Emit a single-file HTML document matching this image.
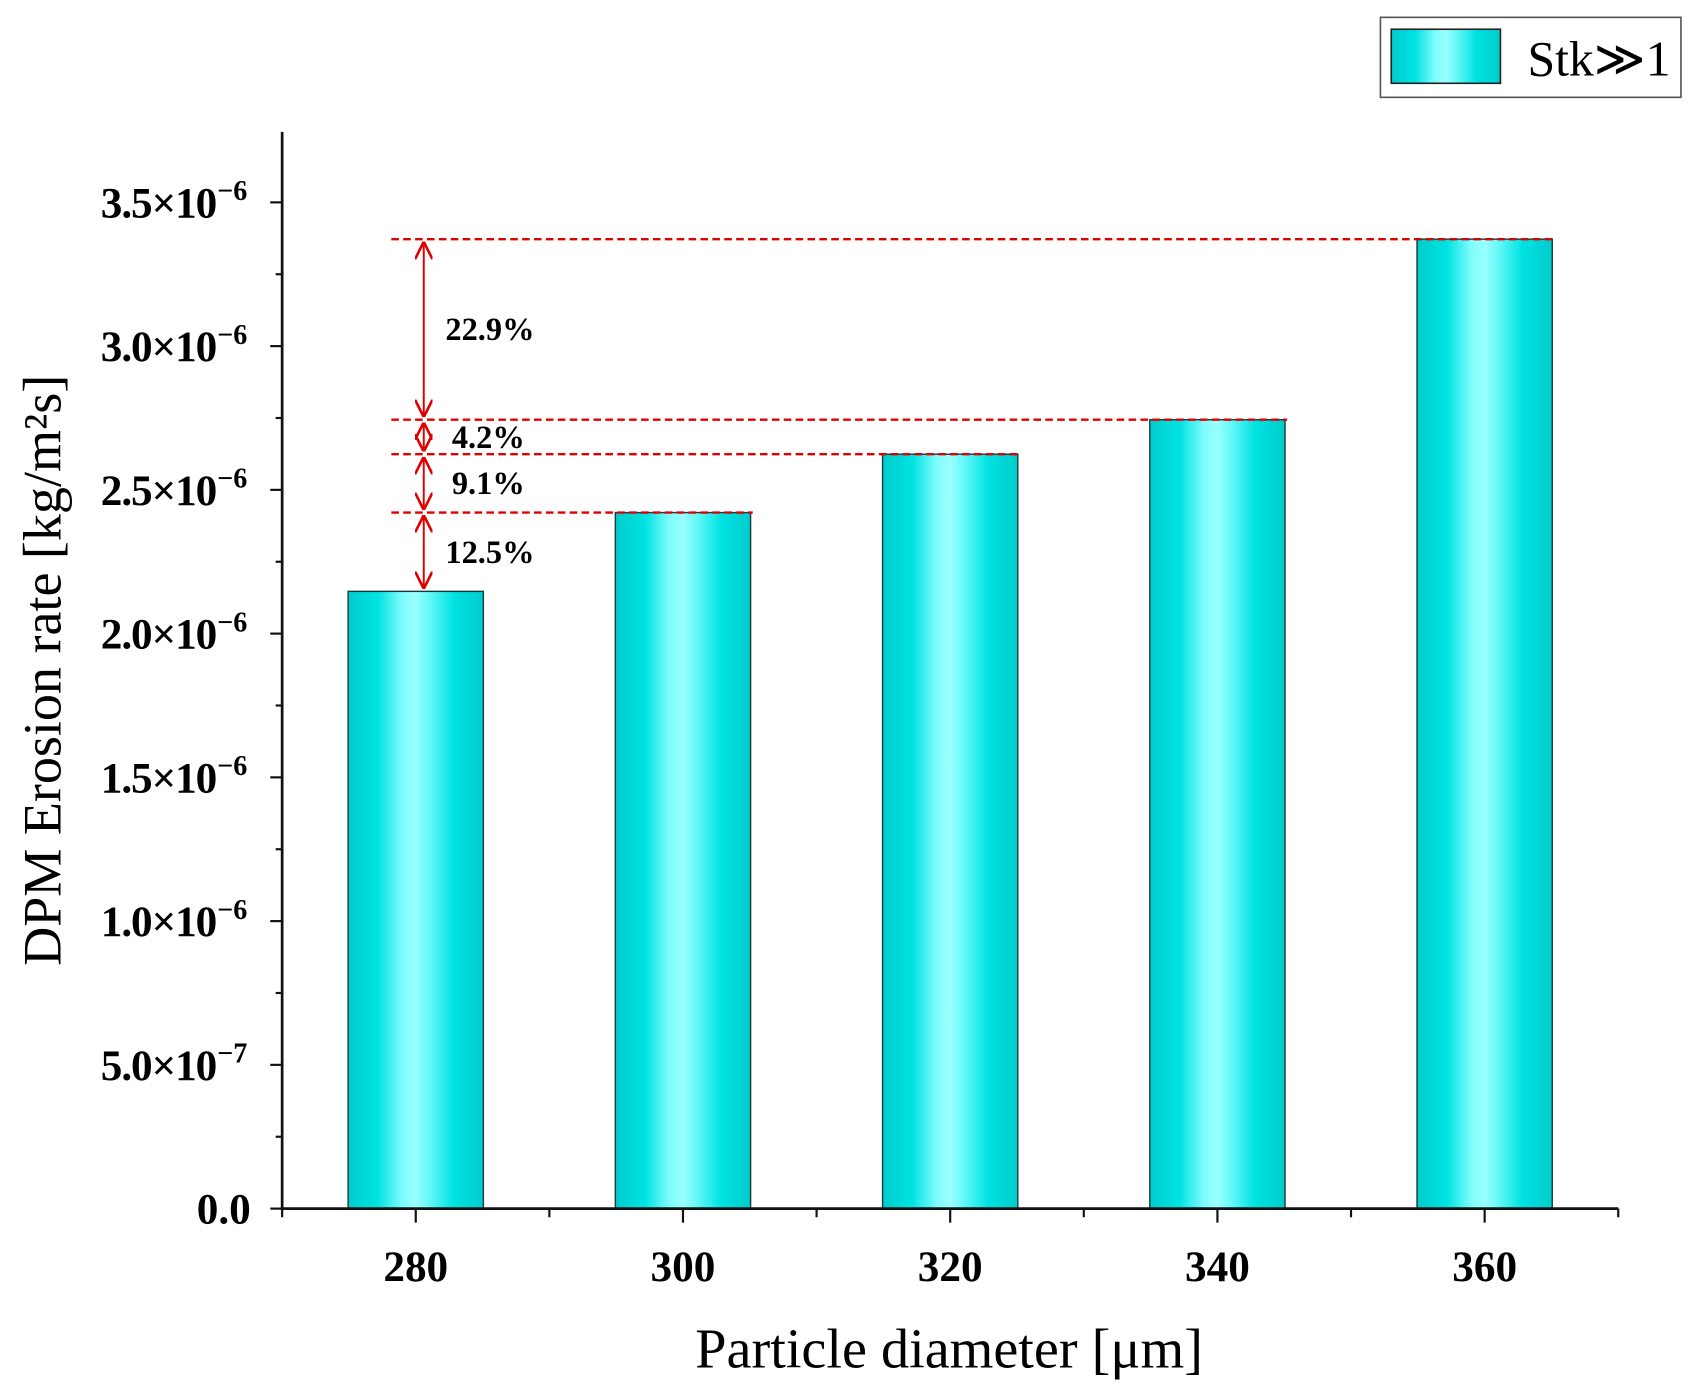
<!DOCTYPE html>
<html><head><meta charset="utf-8"><style>
html,body{margin:0;padding:0;background:#fff;}
svg{display:block;font-family:"Liberation Serif",serif;}
</style></head><body>
<svg id="chart" width="1695" height="1400" viewBox="0 0 1568 1295" xmlns="http://www.w3.org/2000/svg">
<defs>
<linearGradient id="barGrad" x1="0" x2="1" y1="0" y2="0">
<stop offset="0" stop-color="#00cccc"/><stop offset="0.22" stop-color="#00e2e2"/>
<stop offset="0.4" stop-color="#7ffcfc"/><stop offset="0.5" stop-color="#9affff"/>
<stop offset="0.6" stop-color="#66f8f8"/><stop offset="0.78" stop-color="#00e2e2"/>
<stop offset="1" stop-color="#00cccc"/></linearGradient>
<marker id="ah" viewBox="0 0 10 10" refX="9" refY="5" markerWidth="9" markerHeight="9" orient="auto-start-reverse"><path d="M0,0 L10,5 L0,10" fill="none" stroke="#e00000" stroke-width="1.5"/></marker>
</defs>
<g id="plot"></g>
<g>
<rect x="1277" y="16" width="278" height="74" fill="#fff" stroke="#555" stroke-width="1.5"/>
<rect x="1287" y="27" width="101" height="50" fill="url(#barGrad)" stroke="#222" stroke-width="1.5"/>
<text x="1413" y="70" font-size="46">Stk≫1</text>
</g>
<text x="878" y="1265" font-size="52" text-anchor="middle">Particle diameter [μm]</text>
<text transform="translate(56,620) rotate(-90)" font-size="50" text-anchor="middle">DPM Erosion rate [kg/m²s]</text>
</svg>
<script>
const categories = [280, 300, 320, 340, 360];
const values = [2.147e-6, 2.421e-6, 2.624e-6, 2.744e-6, 3.372e-6];
const yTicks = [0, 0.5e-6, 1.0e-6, 1.5e-6, 2.0e-6, 2.5e-6, 3.0e-6, 3.5e-6];
const yTickMant = ["0.0", "5.0", "1.0", "1.5", "2.0", "2.5", "3.0", "3.5"];
const yTickExp = ["", "−7", "−6", "−6", "−6", "−6", "−6", "−6"];
const pctLabels = ["12.5%", "9.1%", "4.2%", "22.9%"];

const NS = "http://www.w3.org/2000/svg";
const X0 = 261, X1 = 1497, Y0 = 1118, YTOP = 122;
const xMin = 270, xMax = 370, yMax = 3.745e-6;
const xs = v => X0 + (v - xMin) / (xMax - xMin) * (X1 - X0);
const ys = v => Y0 - v / yMax * (Y0 - YTOP);
const g = document.getElementById('plot');
function mk(tag, attrs, parent) {
  const e = document.createElementNS(NS, tag);
  for (const k in attrs) e.setAttribute(k, attrs[k]);
  (parent || g).appendChild(e);
  return e;
}
const bw = 125 / 247 * 20;
categories.forEach((c, i) => {
  const r = mk('rect', {x: xs(c - bw / 2), y: ys(values[i]), width: xs(c + bw / 2) - xs(c - bw / 2), height: Y0 - ys(values[i]), fill: 'url(#barGrad)', stroke: '#1a3a3a', 'stroke-width': 1.3});
  
  
});
const ax = mk('path', {d: `M${X0},${YTOP}V${Y0}H${X1}`, fill: 'none', stroke: '#111', 'stroke-width': 2.5});


for (let k = 0; k <= 14; k++) {
  const y = ys(k * 0.25e-6);
  if (y < YTOP) break;
  mk('line', {x1: X0, x2: X0 - (k % 2 ? 6 : 11), y1: y, y2: y, stroke: '#111', 'stroke-width': 2});
}
yTicks.forEach((t, i) => {
  const tx = mk('text', {x: 232, y: ys(t) + 14, 'font-size': 40, 'font-weight': 'bold', 'text-anchor': 'end'});
  
  
  if (yTickExp[i]) {
    tx.setAttribute('x', 200);
    tx.setAttribute('letter-spacing', '-1');
    tx.textContent = yTickMant[i] + '×10';
    const s = mk('text', {x: 201, y: ys(t) - 2, 'font-size': 26, 'font-weight': 'bold'});
    s.textContent = yTickExp[i];
    
    
  } else tx.textContent = yTickMant[i];
});
for (let v = xMin; v <= xMax; v += 10) {
  const major = (v - 280) % 20 === 0;
  mk('line', {x1: xs(v), x2: xs(v), y1: Y0, y2: Y0 + (major ? 13 : 8), stroke: '#111', 'stroke-width': 2});
}
categories.forEach(c => {
  const t = mk('text', {x: xs(c), y: 1185, 'font-size': 40, 'font-weight': 'bold', 'text-anchor': 'middle'});
  t.textContent = c;
  
  
});
for (let i = 1; i < values.length; i++) {
  const l = mk('line', {x1: 362, x2: xs(categories[i] + bw / 2) + 2, y1: ys(values[i]), y2: ys(values[i]), stroke: '#e00000', 'stroke-width': 2.2, 'stroke-dasharray': '7,4'});
  
  
}
for (let i = 0; i < pctLabels.length; i++) {
  const ya = ys(values[i]), yb = ys(values[i + 1]);
  const a = mk('line', {x1: 392, x2: 392, y1: ya - 4, y2: yb + 4, stroke: '#e00000', 'stroke-width': 1.8, 'marker-start': 'url(#ah)', 'marker-end': 'url(#ah)'});
  
  
  const t = mk('text', {x: i === 0 || i === 3 ? 412 : 418, y: (ya + yb) / 2 + 10, 'font-size': 30, 'font-weight': 'bold'});
  t.textContent = pctLabels[i];
  
  
}
</script>
</body></html>
